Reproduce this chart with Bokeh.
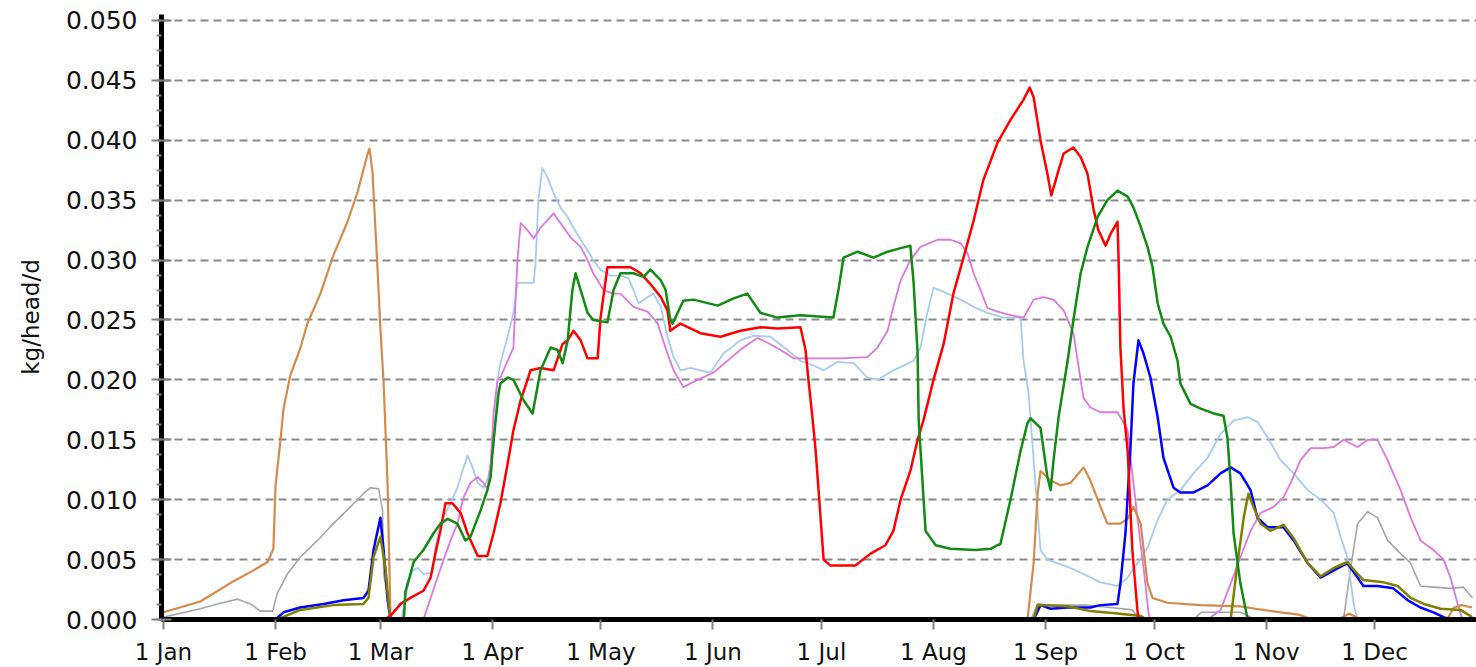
from bokeh.plotting import figure
from bokeh.models import Range1d, FixedTicker, PrintfTickFormatter
from bokeh.embed import file_html
from bokeh.resources import INLINE

# ---- axis ticks (day of a leap year, 0 = 1 Jan) ----
month_ticks = [0, 31, 60, 91, 121, 152, 182, 213, 244, 274, 305, 335]
month_labels = ["1 Jan", "1 Feb", "1 Mar", "1 Apr", "1 May", "1 Jun",
                "1 Jul", "1 Aug", "1 Sep", "1 Oct", "1 Nov", "1 Dec"]
y_ticks = [0.000, 0.005, 0.010, 0.015, 0.020, 0.025, 0.030, 0.035, 0.040, 0.045, 0.050]
y_minor = [round(i * 0.00125, 5) for i in range(41)]
y_title = "kg/head/d"

# ---- series (day of year, kg/head/d) ----
orange_days = [0, 10.2, 19.4, 24.9, 28.8, 30.4, 31.0, 32.4, 33.2, 35.1, 37.8, 39.8, 43.4, 47.0, 50.9, 53.7,
               56.4, 57.0, 57.8, 59.2, 60.0, 60.9, 62.0, 62.8, 239.0, 240.7, 241.8, 242.6, 245.4, 248.1, 250.9,
               254.5, 256.4, 259.2, 261.1, 264.7, 266.7, 268.3, 270.3, 272.2, 273.6, 277.7, 286.9, 297.9, 302.0,
               309.0, 314.0, 318.0, 325.0, 328.0, 331.0, 355.0, 357.0, 359.0, 362.0]
orange_vals = [0.0006, 0.0015, 0.0032, 0.0041, 0.0048, 0.0059, 0.0112, 0.0151, 0.0176, 0.0204, 0.0226, 0.0247,
               0.0272, 0.0304, 0.0332, 0.0357, 0.0388, 0.0393, 0.0374, 0.0293, 0.0243, 0.0197, 0.0112, 0.0, 0.0,
               0.0047, 0.0105, 0.0124, 0.0116, 0.0112, 0.0114, 0.0127, 0.0116, 0.0094, 0.0080, 0.0080, 0.0084,
               0.0094, 0.0080, 0.0030, 0.0018, 0.0014, 0.0012, 0.0011, 0.0009, 0.0006, 0.0004, 0.0, 0.0, 0.0005,
               0.0, 0.0, 0.0010, 0.0012, 0.0010]

gray_days = [0, 10.2, 14.9, 20.5, 24.1, 26.8, 30.2, 31.5, 34.3, 37.8, 42.6, 47.0, 51.7, 55.3, 57.3, 59.5, 60.6,
             60.9, 62.2, 62.8, 240.0, 241.8, 245.0, 255.0, 262.0, 268.0, 270.0, 285.0, 287.0, 298.0, 300.0,
             302.0, 326.4, 328.4, 330.3, 333.1, 335.8, 338.6, 342.2, 345.0, 347.7, 351.3, 356.0, 359.6, 362.1]
gray_vals = [0.0002, 0.0009, 0.0013, 0.0017, 0.0013, 0.0007, 0.0007, 0.0022, 0.0038, 0.0052, 0.0066, 0.0080,
             0.0094, 0.0105, 0.0110, 0.0109, 0.0091, 0.0038, 0.0016, 0.0, 0.0, 0.0013, 0.0012, 0.0012, 0.0010,
             0.0008, 0.0, 0.0, 0.0006, 0.0006, 0.0003, 0.0, 0.0, 0.0043, 0.0080, 0.0090, 0.0085, 0.0066, 0.0055,
             0.0047, 0.0028, 0.0027, 0.0026, 0.0027, 0.0018]

blue_days = [31.0, 33.2, 37.8, 44.3, 49.8, 55.3, 56.7, 58.1, 60.0, 60.9, 62.0, 62.8, 240.7, 242.6, 245.4, 250.1,
             256.4, 259.2, 263.9, 264.7, 266.1, 267.5, 268.3, 269.7, 271.1, 273.0, 275.0, 276.6, 279.4, 281.3,
             284.9, 288.8, 292.4, 295.2, 297.9, 300.7, 302.6, 305.4, 309.8, 312.6, 316.5, 320.1, 323.7, 327.5,
             330.3, 331.9, 335.8, 340.2, 344.2, 347.7, 351.3, 354.1, 356.0]
blue_vals = [0.0, 0.0006, 0.0010, 0.0013, 0.0016, 0.0018, 0.0024, 0.0058, 0.0085, 0.0058, 0.0016, 0.0, 0.0,
             0.0012, 0.0009, 0.0010, 0.0010, 0.0012, 0.0013, 0.0030, 0.0072, 0.0144, 0.0197, 0.0233, 0.0222,
             0.0202, 0.0169, 0.0135, 0.0110, 0.0106, 0.0106, 0.0112, 0.0122, 0.0127, 0.0122, 0.0108, 0.0085,
             0.0077, 0.0077, 0.0066, 0.0047, 0.0035, 0.0041, 0.0047, 0.0035, 0.0028, 0.0028, 0.0026, 0.0016,
             0.0010, 0.0006, 0.0002, 0.0]

olive_days = [31.5, 37.8, 47.0, 55.3, 56.7, 58.1, 60.0, 61.4, 62.2, 62.8, 240.7, 241.8, 250.1, 256.4, 263.9,
              270.3, 272.0, 295.2, 297.1, 298.8, 300.1, 301.5, 303.5, 306.2, 309.8, 312.6, 316.5, 320.1, 323.7,
              327.5, 330.3, 331.9, 337.5, 341.4, 345.0, 348.6, 353.3, 358.8, 362.0]
olive_vals = [0.0, 0.0008, 0.0012, 0.0013, 0.0018, 0.0052, 0.0069, 0.0043, 0.0016, 0.0, 0.0, 0.0012, 0.0011,
              0.0007, 0.0005, 0.0003, 0.0, 0.0, 0.0047, 0.0085, 0.0105, 0.0094, 0.0080, 0.0074, 0.0079, 0.0068,
              0.0047, 0.0036, 0.0043, 0.0048, 0.0038, 0.0033, 0.0031, 0.0028, 0.0018, 0.0013, 0.0009, 0.0008,
              0.0002]

red_days = [61.0, 62.8, 65.6, 68.3, 71.9, 73.9, 75.2, 76.6, 78.0, 79.9, 82.2, 84.1, 86.9, 89.6, 91.3, 93.2,
            95.2, 96.8, 98.8, 100.7, 101.5, 104.3, 107.9, 110.4, 111.8, 113.4, 115.4, 117.3, 120.1, 120.9, 122.8,
            129.2, 132.0, 134.7, 137.6, 139.4, 140.2, 143.0, 148.5, 154.1, 159.6, 165.1, 169.8, 176.2, 177.6,
            178.4, 179.5, 180.4, 182.6, 184.5, 191.4, 195.6, 199.7, 201.9, 203.9, 206.6, 208.6, 210.2, 213.0,
            215.8, 218.5, 221.3, 224.1, 226.8, 230.7, 234.3, 237.9, 239.6, 240.7, 242.6, 244.5, 245.6, 247.3,
            249.0, 251.7, 253.7, 255.6, 257.3, 258.6, 260.6, 262.0, 263.9, 264.2, 264.7, 265.6, 266.7, 268.0,
            269.4, 269.7]
red_vals = [0.0, 0.0003, 0.0013, 0.0018, 0.0024, 0.0035, 0.0055, 0.0074, 0.0097, 0.0097, 0.0089, 0.0072,
            0.0053, 0.0053, 0.0072, 0.0097, 0.0130, 0.0158, 0.0183, 0.0200, 0.0208, 0.0210, 0.0208, 0.0230,
            0.0233, 0.0241, 0.0233, 0.0218, 0.0218, 0.0252, 0.0294, 0.0294, 0.0289, 0.0280, 0.0269, 0.0258,
            0.0241, 0.0247, 0.0239, 0.0236, 0.0241, 0.0244, 0.0243, 0.0244, 0.0225, 0.0200, 0.0169, 0.0141,
            0.0050, 0.0045, 0.0045, 0.0055, 0.0062, 0.0074, 0.0100, 0.0124, 0.0150, 0.0166, 0.0200, 0.0230,
            0.0272, 0.0302, 0.0333, 0.0367, 0.0398, 0.0417, 0.0434, 0.0444, 0.0436, 0.0400, 0.0372, 0.0354,
            0.0372, 0.0389, 0.0394, 0.0386, 0.0372, 0.0342, 0.0325, 0.0312, 0.0322, 0.0332, 0.0300, 0.0227,
            0.0175, 0.0141, 0.0058, 0.0008, 0.0]

green_days = [66.5, 66.9, 68.3, 69.2, 71.9, 74.7, 76.6, 78.6, 81.3, 83.5, 84.9, 87.7, 89.6, 90.5, 91.0, 91.8,
              92.7, 93.2, 95.2, 96.8, 99.6, 102.1, 104.3, 107.1, 109.0, 110.4, 111.8, 113.1, 114.0, 115.4, 117.3,
              118.9, 122.8, 124.5, 126.4, 130.0, 132.8, 134.7, 137.6, 138.9, 140.2, 140.8, 143.8, 146.6, 153.3,
              157.7, 161.5, 165.1, 169.8, 176.2, 185.3, 186.7, 188.1, 192.0, 196.4, 200.3, 203.9, 206.6, 207.5,
              208.6, 208.9, 210.8, 213.6, 217.7, 224.6, 228.8, 230.7, 231.5, 234.3, 237.1, 239.0, 239.8, 242.6,
              244.5, 245.4, 246.2, 247.6, 250.1, 251.7, 253.7, 255.6, 258.4, 261.1, 263.9, 266.7, 268.3, 270.3,
              272.2, 273.6, 275.0, 276.6, 278.6, 280.5, 281.3, 284.1, 286.9, 290.5, 293.2, 294.3, 295.2, 296.0,
              297.9, 299.9]
green_vals = [0.0, 0.0023, 0.0038, 0.0048, 0.0058, 0.0072, 0.0080, 0.0084, 0.0080, 0.0066, 0.0069, 0.0091,
              0.0108, 0.0119, 0.0139, 0.0164, 0.0189, 0.0197, 0.0202, 0.0200, 0.0183, 0.0172, 0.0208, 0.0227,
              0.0225, 0.0214, 0.0233, 0.0275, 0.0289, 0.0275, 0.0256, 0.0250, 0.0248, 0.0275, 0.0289, 0.0289,
              0.0286, 0.0292, 0.0283, 0.0275, 0.0250, 0.0247, 0.0266, 0.0267, 0.0262, 0.0268, 0.0272, 0.0256,
              0.0252, 0.0254, 0.0252, 0.0275, 0.0302, 0.0307, 0.0302, 0.0307, 0.0310, 0.0312, 0.0281, 0.0222,
              0.0166, 0.0074, 0.0062, 0.0059, 0.0058, 0.0059, 0.0062, 0.0063, 0.0100, 0.0141, 0.0164, 0.0168,
              0.0160, 0.0119, 0.0108, 0.0133, 0.0169, 0.0216, 0.0250, 0.0289, 0.0311, 0.0336, 0.0350, 0.0358,
              0.0353, 0.0344, 0.0328, 0.0311, 0.0294, 0.0264, 0.0247, 0.0236, 0.0216, 0.0197, 0.0180, 0.0176,
              0.0172, 0.0170, 0.0152, 0.0114, 0.0072, 0.0030, 0.0]

lightblue_days = [65.8, 67.5, 68.9, 70.3, 71.9, 74.4, 75.2, 76.6, 78.0, 79.4, 81.3, 82.7, 84.1, 85.5, 86.9, 88.5,
                  89.9, 91.3, 92.4, 93.2, 95.2, 96.8, 97.9, 102.4, 102.9, 103.7, 104.8, 106.2, 107.9, 109.8,
                  111.8, 113.4, 115.4, 117.3, 118.9, 120.9, 123.7, 126.4, 128.6, 130.0, 131.4, 133.9, 135.5,
                  137.6, 139.4, 141.1, 143.0, 145.8, 148.5, 151.3, 154.9, 159.6, 163.2, 167.9, 172.6, 176.2,
                  179.8, 182.6, 186.4, 190.9, 194.7, 197.5, 201.9, 207.5, 209.4, 211.3, 213.0, 216.9, 220.5,
                  224.1, 227.9, 232.4, 237.1, 237.9, 239.3, 239.8, 240.7, 241.2, 242.6, 244.5, 250.1, 254.5,
                  259.2, 263.9, 266.7, 269.4, 272.2, 275.0, 277.7, 281.3, 284.9, 288.8, 292.4, 296.0, 299.9,
                  302.6, 305.4, 309.0, 312.6, 316.5, 320.1, 323.7, 325.6, 327.5, 329.2, 330.3]
lightblue_vals = [0.0, 0.0027, 0.0041, 0.0043, 0.0038, 0.0039, 0.0060, 0.0080, 0.0089, 0.0097, 0.0110, 0.0124,
                  0.0137, 0.0127, 0.0114, 0.0110, 0.0119, 0.0144, 0.0200, 0.0214, 0.0236, 0.0256, 0.0281,
                  0.0281, 0.0297, 0.0350, 0.0377, 0.0369, 0.0356, 0.0344, 0.0336, 0.0327, 0.0317, 0.0308,
                  0.0300, 0.0292, 0.0287, 0.0287, 0.0285, 0.0275, 0.0264, 0.0269, 0.0272, 0.0261, 0.0236,
                  0.0219, 0.0208, 0.0210, 0.0208, 0.0206, 0.0222, 0.0233, 0.0237, 0.0236, 0.0225, 0.0216,
                  0.0212, 0.0208, 0.0215, 0.0214, 0.0202, 0.0200, 0.0208, 0.0216, 0.0227, 0.0256, 0.0277,
                  0.0272, 0.0267, 0.0261, 0.0256, 0.0252, 0.0252, 0.0216, 0.0189, 0.0169, 0.0133, 0.0114,
                  0.0058, 0.0050, 0.0044, 0.0038, 0.0031, 0.0028, 0.0035, 0.0047, 0.0060, 0.0083, 0.0100,
                  0.0108, 0.0122, 0.0135, 0.0155, 0.0166, 0.0169, 0.0165, 0.0152, 0.0133, 0.0122, 0.0108,
                  0.0100, 0.0089, 0.0069, 0.0052, 0.0013, 0.0]

violet_days = [71.9, 73.9, 75.8, 77.5, 79.4, 81.3, 83.0, 84.9, 86.9, 88.5, 89.6, 90.5, 91.3, 92.4, 93.2, 96.8,
               97.9, 98.8, 100.7, 102.4, 104.3, 107.9, 109.8, 112.6, 115.4, 117.3, 118.9, 121.7, 124.5, 126.4,
               130.0, 133.9, 136.7, 139.4, 141.1, 143.8, 147.7, 152.1, 156.8, 160.4, 164.3, 167.1, 170.7,
               174.3, 187.3, 194.7, 197.5, 200.3, 201.9, 203.9, 206.6, 209.4, 214.1, 217.7, 220.5, 222.4,
               224.1, 226.0, 227.9, 230.7, 234.3, 237.9, 240.7, 243.4, 246.2, 249.0, 251.7, 253.7, 254.5,
               256.4, 259.2, 263.9, 265.6, 266.7, 267.5, 269.4, 271.1, 272.5, 273.0, 288.8, 292.4, 295.2,
               297.9, 300.7, 303.5, 307.1, 309.8, 311.8, 314.5, 317.3, 320.9, 323.7, 326.4, 330.3, 333.1,
               335.8, 338.6, 342.2, 345.0, 347.7, 351.3, 354.1, 356.0, 358.0, 359.3]
violet_vals = [0.0, 0.0018, 0.0035, 0.0050, 0.0066, 0.0080, 0.0102, 0.0114, 0.0119, 0.0114, 0.0109, 0.0130,
               0.0172, 0.0200, 0.0202, 0.0227, 0.0300, 0.0331, 0.0325, 0.0318, 0.0327, 0.0339, 0.0331, 0.0319,
               0.0311, 0.0300, 0.0289, 0.0275, 0.0272, 0.0272, 0.0261, 0.0257, 0.0247, 0.0222, 0.0208, 0.0194,
               0.0200, 0.0206, 0.0218, 0.0227, 0.0235, 0.0231, 0.0225, 0.0218, 0.0218, 0.0219, 0.0227, 0.0241,
               0.0261, 0.0283, 0.0300, 0.0311, 0.0317, 0.0317, 0.0314, 0.0306, 0.0289, 0.0275, 0.0260, 0.0257,
               0.0254, 0.0252, 0.0267, 0.0269, 0.0267, 0.0258, 0.0239, 0.0200, 0.0185, 0.0177, 0.0173, 0.0173,
               0.0164, 0.0158, 0.0135, 0.0085, 0.0043, 0.0005, 0.0, 0.0, 0.0008, 0.0030, 0.0052, 0.0074, 0.0089,
               0.0094, 0.0102, 0.0114, 0.0133, 0.0143, 0.0143, 0.0144, 0.0150, 0.0144, 0.0150, 0.0150, 0.0133,
               0.0108, 0.0085, 0.0066, 0.0058, 0.0050, 0.0035, 0.0013, 0.0]

series = [
    (gray_days, gray_vals, "#a6a6a6", 1.6),
    (lightblue_days, lightblue_vals, "#a6cbf2", 1.8),
    (violet_days, violet_vals, "#dc78dc", 1.8),
    (orange_days, orange_vals, "#d38b4c", 2.2),
    (blue_days, blue_vals, "#0000ff", 2.5),
    (olive_days, olive_vals, "#808000", 2.5),
    (red_days, red_vals, "#ff0000", 2.5),
    (green_days, green_vals, "#138a13", 2.5),
]

FONT = "DejaVu Sans"

p = figure(width=1476, height=667, output_backend="svg", toolbar_location=None,
           x_range=Range1d(-0.55, 363.2), y_range=Range1d(0.0, 0.0505),
           min_border_left=161, min_border_right=0, min_border_top=14, min_border_bottom=48)
p.background_fill_color = "white"
p.border_fill_color = "white"
p.outline_line_color = None

for xs, ys, col, w in series:
    p.line(xs, ys, line_color=col, line_width=w, line_join="round")

# grid
p.xgrid.grid_line_color = None
p.ygrid.grid_line_color = "#8a8a8a"
p.ygrid.grid_line_width = 2
p.ygrid.grid_line_dash = "8 5"

# y axis
ya = p.yaxis[0]
ya.ticker = FixedTicker(ticks=y_ticks, minor_ticks=y_minor)
ya.formatter = PrintfTickFormatter(format="%.3f")
ya.axis_line_color = "black"
ya.axis_line_width = 5
ya.major_tick_in = 10
ya.major_tick_out = 10
ya.major_tick_line_color = "#808080"
ya.major_tick_line_width = 2
ya.minor_tick_in = 0
ya.minor_tick_out = 5
ya.minor_tick_line_color = "#808080"
ya.minor_tick_line_width = 2
ya.major_label_text_font = FONT
ya.major_label_text_font_size = "25px"
ya.major_label_text_color = "#111111"
ya.major_label_standoff = 14
ya.axis_label = y_title
ya.axis_label_text_font = FONT
ya.axis_label_text_font_size = "23px"
ya.axis_label_text_font_style = "normal"
ya.axis_label_text_color = "#111111"
ya.axis_label_standoff = 19

# x axis
xa = p.xaxis[0]
xa.ticker = FixedTicker(ticks=month_ticks)
xa.major_label_overrides = {t: lab for t, lab in zip(month_ticks, month_labels)}
xa.axis_line_color = "black"
xa.axis_line_width = 5
xa.major_tick_in = 0
xa.major_tick_out = 10
xa.major_tick_line_color = "#808080"
xa.major_tick_line_width = 2
xa.minor_tick_line_color = None
xa.major_label_text_font = FONT
xa.major_label_text_font_size = "23px"
xa.major_label_text_color = "#111111"
xa.major_label_standoff = 9

open("out.html", "w").write(file_html(p, INLINE))
